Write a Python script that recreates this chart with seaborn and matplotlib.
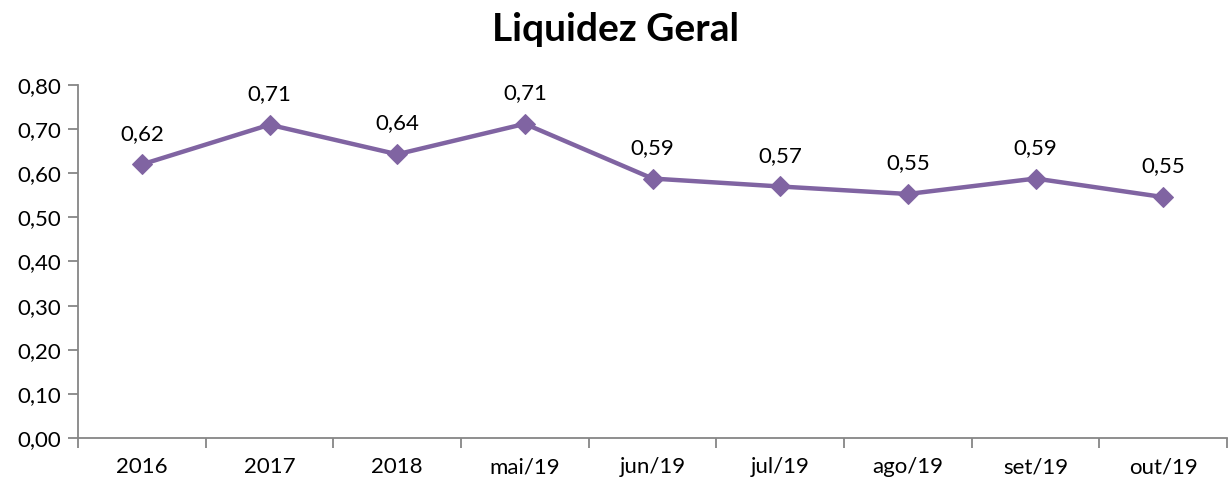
import matplotlib
matplotlib.use("Agg")
import matplotlib.pyplot as plt
import seaborn as sns
import pandas as pd
import numpy as np
from matplotlib.ticker import FixedLocator, FuncFormatter

categories = ["2016", "2017", "2018", "mai/19", "jun/19", "jul/19", "ago/19", "set/19", "out/19"]
values = [0.62, 0.71, 0.643, 0.712, 0.588, 0.57, 0.553, 0.588, 0.546]
labels = ["0,62", "0,71", "0,64", "0,71", "0,59", "0,57", "0,55", "0,59", "0,55"]
title = "Liquidez Geral"

sns.set_theme(style="white")
plt.rcParams["font.family"] = ["Lato", "DejaVu Sans"]

df = pd.DataFrame({"pos": np.arange(len(categories)), "value": values})

fig = plt.figure(figsize=(12.31, 4.83), dpi=100)
ax = fig.add_axes([0.0634, 0.0932, 0.9334, 0.7308])

color = "#8064A2"
sns.lineplot(data=df, x="pos", y="value", ax=ax, color=color, linewidth=3.2,
             marker="D", markersize=10, markeredgecolor=color, markerfacecolor=color)

for x, y, t in zip(df["pos"], df["value"], labels):
    ax.annotate(t, (x, y), xytext=(0, 15), textcoords="offset points",
                ha="center", va="bottom", fontsize=16, color="black")

ax.set_xlim(-0.5, len(categories) - 0.5)
ax.set_ylim(0, 0.8)
ax.set_yticks(np.arange(0, 0.81, 0.1))
ax.yaxis.set_major_formatter(FuncFormatter(lambda v, p: f"{v:.2f}".replace(".", ",")))

ax.xaxis.set_major_locator(FixedLocator(np.arange(-0.5, len(categories), 1.0)))
ax.xaxis.set_minor_locator(FixedLocator(np.arange(len(categories))))
ax.set_xticklabels([""] * (len(categories) + 1))
ax.set_xticklabels(categories, minor=True)
ax.tick_params(axis="x", which="major", length=7, width=1.3, color="#868686", direction="out", bottom=True)
ax.tick_params(axis="x", which="minor", length=0, labelsize=16, pad=14, bottom=True, labelcolor="black")
ax.tick_params(axis="y", which="major", length=7, width=1.3, color="#868686", direction="out", labelsize=16, pad=5, left=True, labelcolor="black")

for s in ["top", "right"]:
    ax.spines[s].set_visible(False)
for s in ["left", "bottom"]:
    ax.spines[s].set_color("#868686")
    ax.spines[s].set_linewidth(1.3)

ax.set_xlabel("")
ax.set_ylabel("")
fig.text(0.5, 0.975, title, ha="center", va="top", fontsize=28, fontweight="bold", color="black")

fig.savefig("out.png", dpi=100)
